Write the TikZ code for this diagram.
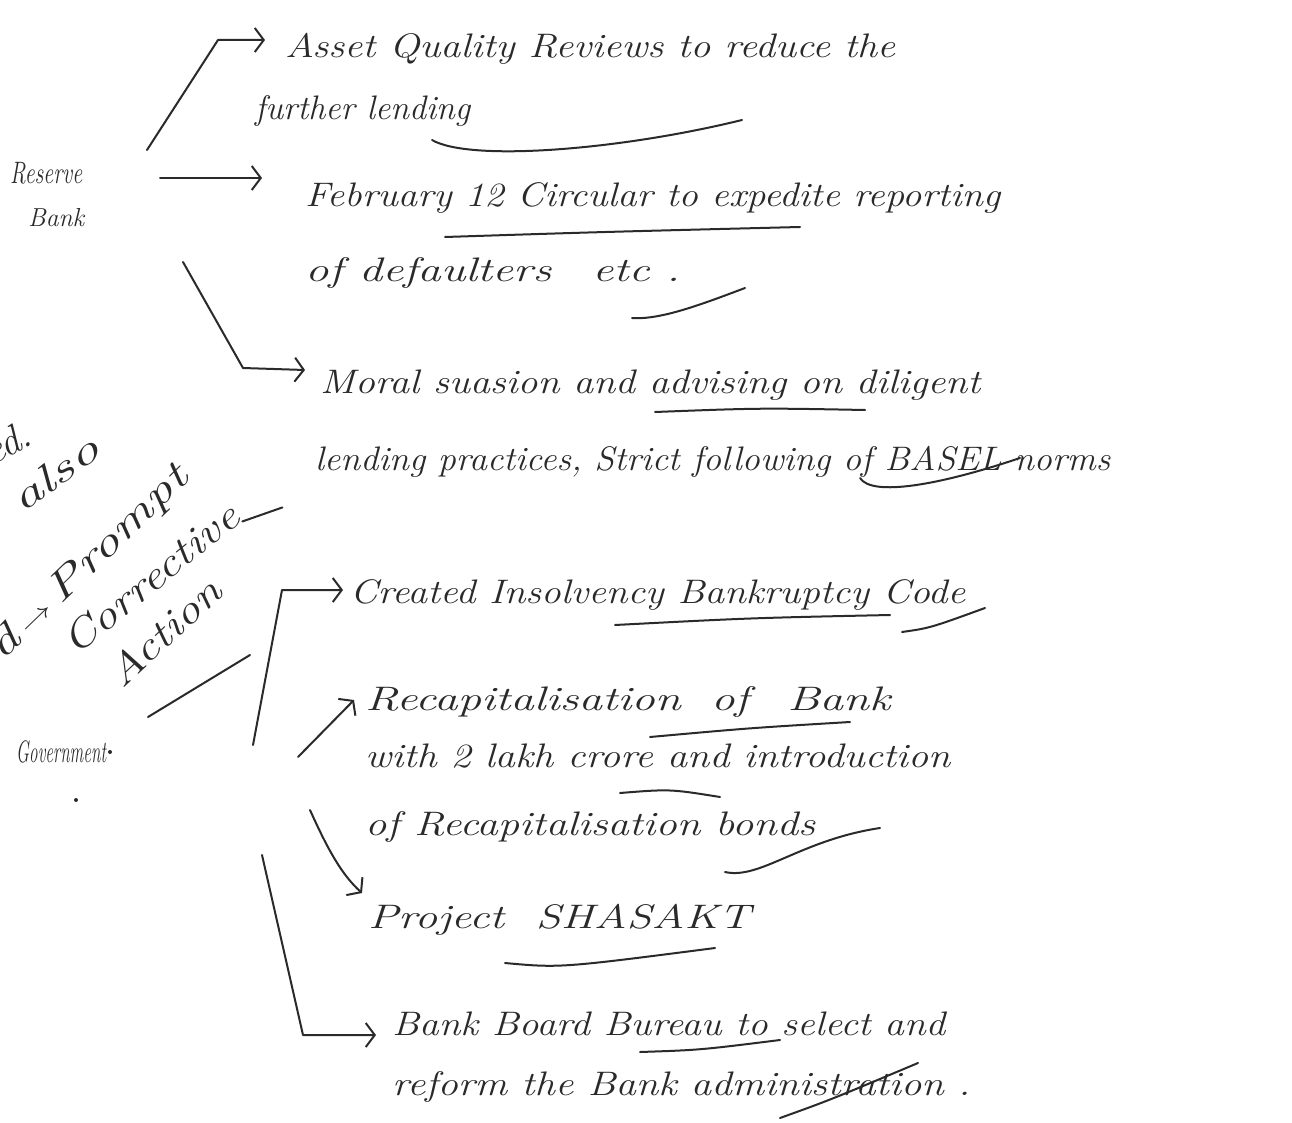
\documentclass[tikz,border=0pt]{standalone}
\usepackage{graphicx}
\usetikzlibrary{arrows.meta}
\definecolor{inkc}{HTML}{2A2A2A}
% stretch a piece of text to a given width, keeping its height
\newcommand{\fitw}[2]{\resizebox{#1}{\height}{#2}}
\begin{document}
\begin{tikzpicture}[x=1pt,y=-1pt,
  ink/.style={draw=inkc, line width=2pt, line cap=round, line join=round},
  conn/.style={ink, -{Straight Barb[length=9pt,width=24pt,line width=2pt]}},
  note/.style={inner sep=0pt, anchor=base west, text=inkc,
    font=\fontsize{34}{40}\selectfont\itshape},
  side/.style={inner sep=0pt, anchor=base west, text=inkc,
    font=\fontsize{40}{46}\selectfont\itshape},
  src/.style={inner sep=0pt, anchor=base west, text=inkc,
    font=\fontsize{31}{34}\selectfont\itshape},
  dot/.style={fill=inkc, draw=none, circle, inner sep=0pt, minimum size=4pt}]

\useasboundingbox (0,0) rectangle (1292,1123);
\fill[white] (0,0) rectangle (1292,1123);

% ---------------- sources ----------------
\node[src] (rb) at (10,184) {\fitw{72pt}{Reserve}};
\node[src] (rbk) at (28,226) {\fitw{56pt}{\fontsize{26}{28}\selectfont Bank}};
\node[src] (gov) at (16,762) {\fitw{90pt}{Government}};
\node[dot] (govdot1) at (110,752) {};
\node[dot] (govdot2) at (76,800) {};

% ---------------- Reserve Bank measures ----------------
\node[note] (aqr1) at (285,58)  {\fitw{610pt}{Asset Quality\hspace{12pt}Reviews to reduce the}};
\node[note] (aqr2) at (255,120) {\fitw{215pt}{further lending}};
\node[note] (feb1) at (305,207) {\fitw{695pt}{February 12 Circular to expedite reporting}};
\node[note] (feb2) at (305,282) {\fitw{375pt}{of defaulters\hspace{30pt}etc\hspace{12pt}.}};
\node[note] (mor1) at (320,393) {\fitw{660pt}{Moral suasion and advising on diligent}};
\node[note] (mor2) at (315,470) {\fitw{795pt}{lending practices, Strict following of BASEL norms}};

% ---------------- Government measures ----------------
\node[note] (ibc)  at (350,603)  {\fitw{615pt}{Created Insolvency Bankruptcy Code}};
\node[note] (rec1) at (365,710)  {\fitw{525pt}{Recapitalisation\hspace{22pt}of\hspace{28pt}Bank}};
\node[note] (rec2) at (365,767)  {\fitw{585pt}{with 2 lakh crore and introduction}};
\node[note] (rec3) at (365,835)  {\fitw{450pt}{of Recapitalisation bonds}};
\node[note] (sas)  at (368,928)  {\fitw{382pt}{Project\hspace{24pt}SHASAKT}};
\node[note] (bbb1) at (392,1035) {\fitw{553pt}{Bank Board Bureau to select and}};
\node[note] (bbb2) at (392,1095) {\fitw{578pt}{reform the Bank administration .}};

% ---------------- side notes, written at a slant ----------------
\node[side, rotate=28] (n1) at (-8,466) {ed.};
\node[side, rotate=36] (n2) at (22,514) {\fitw{100pt}{also}};
\node[side, rotate=44] (n3) at (2,662) {\fitw{262pt}{d\hspace{6pt}$\to$\hspace{6pt}Prompt}};
\node[side, rotate=39] (n4) at (75,657) {\fitw{215pt}{Corrective}};
\node[side, rotate=43] (n5) at (122,690) {\fitw{140pt}{Action}};
\draw[ink] (n4.base east) -- ++(40,-14);
\draw[ink] (148,717) -- (250,655);

% ---------------- Reserve Bank connectors ----------------
\coordinate (rbA0) at (147,150);
\coordinate (rbA1) at (218,40);
\coordinate (rbA2) at (265,40);
\coordinate (rbB0) at (160,178);
\coordinate (rbB1) at (262,178);
\coordinate (rbC0) at (183,262);
\coordinate (rbC1) at (243,368);
\coordinate (rbC2) at (305,370);
\draw[conn] (rbA0) -- (rbA1) -- (rbA2);
\draw[conn] (rbB0) -- (rbB1);
\draw[conn] (rbC0) -- (rbC1) -- (rbC2);

% ---------------- Government connectors ----------------
\coordinate (gA0) at (253,745);
\coordinate (gA1) at (282,590);
\coordinate (gA2) at (343,590);
\coordinate (gB0) at (298,757);
\coordinate (gB1) at (354,700);
\coordinate (gC0) at (310,810);
\coordinate (gC1) at (362,893);
\coordinate (gD0) at (262,855);
\coordinate (gD1) at (303,1035);
\coordinate (gD2) at (376,1035);
\draw[conn] (gA0) -- (gA1) -- (gA2);
\draw[conn] (gB0) -- (gB1);
\draw[conn] (gC0) .. controls (328,850) and (342,875) .. (gC1);
\draw[conn] (gD0) -- (gD1) -- (gD2);

% ---------------- underlines and ticks ----------------
\draw[ink] (432,140) .. controls (470,162) and (620,150) .. (742,120);
\draw[ink] (445,237) .. controls (600,232) .. (800,227);
\draw[ink] (632,318) .. controls (660,320) and (700,305) .. (745,288);
\draw[ink] (655,412) .. controls (760,408) .. (865,410);
\draw[ink] (860,478) .. controls (872,497) and (940,485) .. (1020,458);
\draw[ink] (615,625) .. controls (750,618) .. (890,615);
\draw[ink] (902,632) .. controls (930,628) .. (985,608);
\draw[ink] (650,737) .. controls (750,728) .. (850,722);
\draw[ink] (620,793) .. controls (670,789) .. (720,797);
\draw[ink] (725,872) .. controls (760,880) and (800,840) .. (880,828);
\draw[ink] (505,963) .. controls (560,968) .. (715,948);
\draw[ink] (640,1052) .. controls (700,1050) .. (780,1040);
\draw[ink] (780,1118) .. controls (830,1100) .. (918,1063);
\end{tikzpicture}
\end{document}
